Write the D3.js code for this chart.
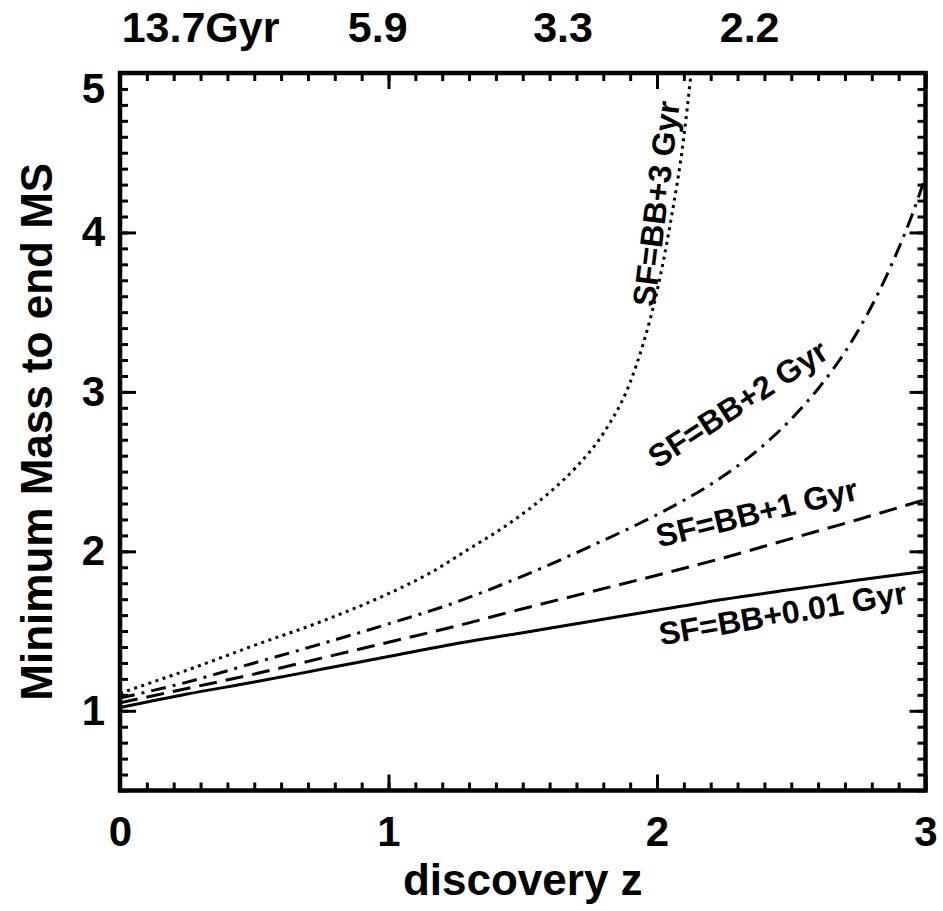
<!DOCTYPE html>
<html>
<head>
<meta charset="utf-8">
<script src="https://cdn.jsdelivr.net/npm/d3@7"></script>
<style>
  body { margin: 0; background: #fff; }
  svg { display: block; }
  text { font-family: "Liberation Sans", Arial, Helvetica, sans-serif; font-weight: bold; fill: #000; }
</style>
</head>
<body>
<div id="chart"></div>
<script>
// values
const zGrid = [0, 0.25, 0.5, 0.75, 1, 1.25, 1.5, 1.75, 2, 2.25, 2.5, 2.75, 3];
const massSF001 = [1.02, 1.105, 1.18, 1.26, 1.34, 1.42, 1.49, 1.56, 1.63, 1.7, 1.76, 1.82, 1.875];
const massSF1 = [1.05, 1.14, 1.23, 1.33, 1.43, 1.53, 1.64, 1.745, 1.85, 1.96, 2.08, 2.2, 2.325];

const zSF2 = [0, 0.25, 0.5, 0.75, 1, 1.25, 1.5, 1.75, 2, 2.1, 2.2, 2.3, 2.4, 2.5, 2.6, 2.7, 2.8, 2.9, 2.95, 3];
const massSF2 = [1.08, 1.18, 1.3, 1.42, 1.545, 1.68, 1.845, 2.03, 2.23, 2.32, 2.42, 2.535, 2.67, 2.83, 3.02, 3.25, 3.54, 3.9, 4.11, 4.35];

const zSF3 = [0, 0.25, 0.5, 0.75, 1, 1.15, 1.3, 1.45, 1.6, 1.7, 1.8, 1.9, 1.95, 2, 2.05, 2.1, 2.125, 2.14];
const massSF3 = [1.11, 1.255, 1.41, 1.56, 1.735, 1.86, 2.015, 2.175, 2.37, 2.53, 2.74, 3.06, 3.31, 3.63, 4.06, 4.6, 4.97, 5.22];

const seriesNames = ["SF=BB+0.01 Gyr", "SF=BB+1 Gyr", "SF=BB+2 Gyr", "SF=BB+3 Gyr"];
const xMajorTicks = [0, 1, 2, 3];
const yMajorTicks = [1, 2, 3, 4, 5];
const topAgeLabels = ["13.7Gyr", "5.9", "3.3", "2.2"];

const width = 943;
const height = 911;
const x = d3.scaleLinear().domain([0, 3]).range([120, 925.5]);
const y = d3.scaleLinear().domain([0.5, 5]).range([790.5, 73]);

const svg = d3.select("#chart").append("svg")
  .attr("width", width)
  .attr("height", height);

svg.append("defs").append("clipPath").attr("id", "plot-clip")
  .append("rect")
  .attr("x", x(0)).attr("y", y(5))
  .attr("width", x(3) - x(0)).attr("height", y(0.5) - y(5));

const xMinor = d3.range(0, 31).map((i) => i / 10);
const yMinor = d3.range(5, 51).map((i) => i / 10);

const styleAxis = (g, size) => {
  g.select(".domain").remove();
  g.selectAll(".tick line").attr("stroke", "#000").attr("stroke-width", 3);
  g.attr("font-size", size)
    .attr("font-family", '"Liberation Sans", Arial, sans-serif')
    .attr("font-weight", "bold");
  g.selectAll(".tick text").attr("fill", "#000");
};

// minor ticks, all four sides
svg.append("g").attr("transform", `translate(0,${y(0.5)})`)
  .call(d3.axisBottom(x).tickValues(xMinor).tickSize(-8).tickFormat(""))
  .call((g) => styleAxis(g, 10));
svg.append("g").attr("transform", `translate(0,${y(5)})`)
  .call(d3.axisTop(x).tickValues(xMinor).tickSize(-8).tickFormat(""))
  .call((g) => styleAxis(g, 10));
svg.append("g").attr("transform", `translate(${x(0)},0)`)
  .call(d3.axisLeft(y).tickValues(yMinor).tickSize(-8).tickFormat(""))
  .call((g) => styleAxis(g, 10));
svg.append("g").attr("transform", `translate(${x(3)},0)`)
  .call(d3.axisRight(y).tickValues(yMinor).tickSize(-8).tickFormat(""))
  .call((g) => styleAxis(g, 10));

// major ticks
svg.append("g").attr("transform", `translate(0,${y(0.5)})`)
  .call(d3.axisBottom(x).tickValues(xMajorTicks).tickSizeInner(-16).tickSizeOuter(0)
    .tickPadding(26).tickFormat(d3.format("d")))
  .call((g) => styleAxis(g, 42));
svg.append("g").attr("transform", `translate(0,${y(5)})`)
  .call(d3.axisTop(x).tickValues(xMajorTicks).tickSize(-16).tickFormat(""))
  .call((g) => styleAxis(g, 10));
svg.append("g").attr("transform", `translate(${x(0)},0)`)
  .call(d3.axisLeft(y).tickValues(yMajorTicks).tickSizeInner(-16).tickSizeOuter(0)
    .tickPadding(15).tickFormat(d3.format("d")))
  .call((g) => styleAxis(g, 42))
  .call((g) => g.selectAll(".tick text")
    .filter((d) => d === d3.max(yMajorTicks))
    .attr("dy", "0.71em"));
svg.append("g").attr("transform", `translate(${x(3)},0)`)
  .call(d3.axisRight(y).tickValues(yMajorTicks).tickSize(-16).tickFormat(""))
  .call((g) => styleAxis(g, 10));

// curves
const line = d3.line()
  .x((d) => x(d[0]))
  .y((d) => y(d[1]))
  .curve(d3.curveMonotoneX);

const series = [
  { name: seriesNames[0], pts: d3.zip(zGrid, massSF001), dash: null },
  { name: seriesNames[1], pts: d3.zip(zGrid, massSF1), dash: "18 9" },
  { name: seriesNames[2], pts: d3.zip(zSF2, massSF2), dash: "15 7 3 7" },
  { name: seriesNames[3], pts: d3.zip(zSF3, massSF3), dash: "3 4.5" },
];

svg.append("g").attr("clip-path", "url(#plot-clip)")
  .selectAll("path")
  .data(series)
  .join("path")
  .attr("d", (d) => line(d.pts))
  .attr("fill", "none")
  .attr("stroke", "#000")
  .attr("stroke-width", 3)
  .attr("stroke-dasharray", (d) => d.dash);

// frame
svg.append("rect")
  .attr("x", x(0)).attr("y", y(5))
  .attr("width", x(3) - x(0)).attr("height", y(0.5) - y(5))
  .attr("fill", "none")
  .attr("stroke", "#000")
  .attr("stroke-width", 4.5);

// curve labels
const curveLabels = [
  { text: seriesNames[0], z: 2.468, m: 1.614, angle: -9.7 },
  { text: seriesNames[1], z: 2.371, m: 2.246, angle: -13.5 },
  { text: seriesNames[2], z: 2.3, m: 2.928, angle: -33 },
  { text: seriesNames[3], z: 1.995, m: 4.18, angle: -83 },
];

svg.append("g")
  .selectAll("text")
  .data(curveLabels)
  .join("text")
  .attr("transform", (d) => `translate(${x(d.z)},${y(d.m)}) rotate(${d.angle})`)
  .attr("text-anchor", "middle")
  .attr("dy", "0.36em")
  .style("font-size", "32px")
  .text((d) => d.text);

// age of the universe along the top
const topLabelZ = [0.3, 0.96, 1.65, 2.345];
svg.append("g")
  .selectAll("text")
  .data(topAgeLabels)
  .join("text")
  .attr("x", (d, i) => x(topLabelZ[i]))
  .attr("y", 42)
  .attr("text-anchor", "middle")
  .style("font-size", "43px")
  .text((d) => d);

// axis titles
svg.append("text")
  .attr("x", (x(0) + x(3)) / 2)
  .attr("y", 895)
  .attr("text-anchor", "middle")
  .style("font-size", "44px")
  .text("discovery z");

svg.append("text")
  .attr("transform", `translate(52,${(y(0.5) + y(5)) / 2}) rotate(-90)`)
  .attr("text-anchor", "middle")
  .style("font-size", "44px")
  .text("Minimum Mass to end MS");
</script>
</body>
</html>
